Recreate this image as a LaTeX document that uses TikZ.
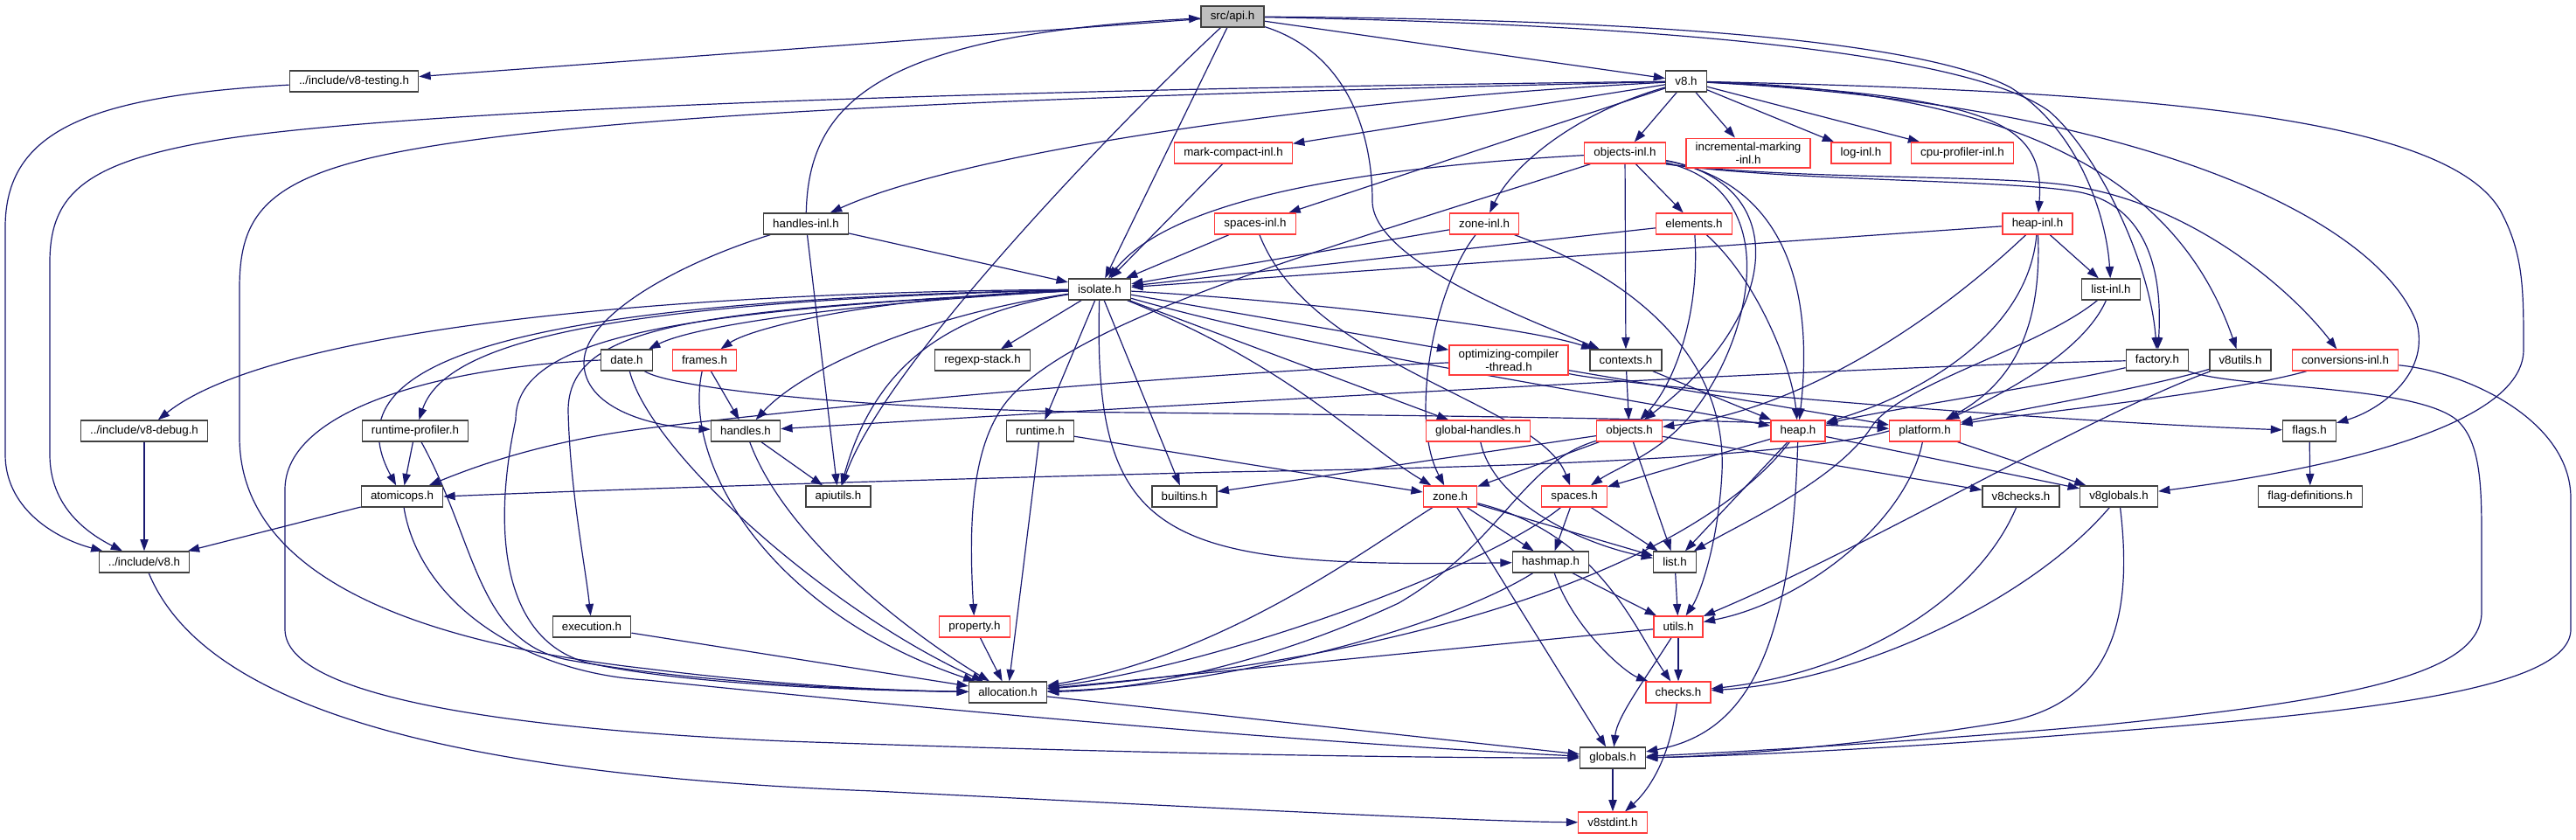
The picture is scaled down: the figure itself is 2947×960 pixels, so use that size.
\documentclass[tikz,border=0pt]{standalone}
\usepackage{fontspec}
\setmainfont{Liberation Sans}
\usetikzlibrary{arrows.meta,backgrounds}
\definecolor{Edge}{HTML}{191970}
\definecolor{Frame}{HTML}{404040}
\definecolor{Trunc}{HTML}{FF3B3B}
\definecolor{Root}{HTML}{BFBFBF}

\begin{document}
\begin{tikzpicture}[
  x=0.75pt, y=-0.75pt,
  file/.style={draw=Frame,line width=1pt,fill=white,minimum height=18pt,inner xsep=8pt,inner ysep=3.5pt,align=center,font={\fontsize{10pt}{11pt}\selectfont}},
  trunc/.style={file,draw=Trunc},
  root/.style={file,fill=Root},
  dep/.style={-{Triangle[length=10pt,width=7pt]},draw=Edge,line width=0.9pt}
]
\useasboundingbox (0,0) rectangle (2947,960);

\node[root]  (api)       at (1410,19)  {src/api.h};
\node[file]  (vtest)     at (405,93)   {../include/v8-testing.h};
\node[file]  (veight)    at (1929,93)  {v8.h};
\node[trunc] (mcinl)     at (1411,175) {mark-compact-inl.h};
\node[trunc] (objinl)    at (1859,175) {objects-inl.h};
\node[trunc] (incmark)   at (2000,175) {incremental-marking\\-inl.h};
\node[trunc] (loginl)    at (2129,175) {log-inl.h};
\node[trunc] (cpuinl)    at (2245,175) {cpu-profiler-inl.h};
\node[file]  (hdlinl)    at (922,256)  {handles-inl.h};
\node[trunc] (spcinl)    at (1436,256) {spaces-inl.h};
\node[trunc] (zoneinl)   at (1698,256) {zone-inl.h};
\node[trunc] (elements)  at (1938,256) {elements.h};
\node[trunc] (heapinl)   at (2331,256) {heap-inl.h};
\node[file]  (isolate)   at (1258,331) {isolate.h};
\node[file]  (listinl)   at (2415,331) {list-inl.h};
\node[file]  (date)      at (717,412)  {date.h};
\node[trunc] (frames)    at (806,412)  {frames.h};
\node[file]  (regexp)    at (1124,412) {regexp-stack.h};
\node[trunc] (optcomp)   at (1726,412) {optimizing-compiler\\-thread.h};
\node[file]  (contexts)  at (1860,412) {contexts.h};
\node[file]  (factory)   at (2468,412) {factory.h};
\node[file]  (vutils)    at (2563,412) {v8utils.h};
\node[trunc] (convinl)   at (2683,412) {conversions-inl.h};
\node[file]  (vdebug)    at (165,493)  {../include/v8-debug.h};
\node[file]  (rtprof)    at (475,493)  {runtime-profiler.h};
\node[file]  (handles)   at (853,493)  {handles.h};
\node[file]  (runtime)   at (1190,493) {runtime.h};
\node[trunc] (globhdl)   at (1691,493) {global-handles.h};
\node[trunc] (objects)   at (1864,493) {objects.h};
\node[trunc] (heap)      at (2057,493) {heap.h};
\node[trunc] (platform)  at (2202,493) {platform.h};
\node[file]  (flags)     at (2642,493) {flags.h};
\node[file]  (atomic)    at (460,568)  {atomicops.h};
\node[file]  (apiutils)  at (959,568)  {apiutils.h};
\node[file]  (builtins)  at (1355,568) {builtins.h};
\node[trunc] (zone)      at (1659,568) {zone.h};
\node[trunc] (spaces)    at (1801,568) {spaces.h};
\node[file]  (vchecks)   at (2312,568) {v8checks.h};
\node[file]  (vglobals)  at (2424,568) {v8globals.h};
\node[file]  (flagdef)   at (2643,568) {flag-definitions.h};
\node[file]  (incv8)     at (165,643)  {../include/v8.h};
\node[file]  (hashmap)   at (1774,643) {hashmap.h};
\node[file]  (list)      at (1916,643) {list.h};
\node[file]  (execution) at (677,717)  {execution.h};
\node[trunc] (property)  at (1115,717) {property.h};
\node[trunc] (utils)     at (1920,717) {utils.h};
\node[file]  (alloc)     at (1153,792) {allocation.h};
\node[trunc] (checks)    at (1920,792) {checks.h};
\node[file]  (globals)   at (1845,867) {globals.h};
\node[trunc] (stdint)    at (1845,941) {v8stdint.h};

\begin{scope}[on background layer]
% src/api.h
\draw[dep] (api) -- (vtest);
\draw[dep] (api) -- (veight);
\draw[dep] (api) -- (isolate);
\draw[dep] (api) .. controls (1280,140) and (1010,420) .. (apiutils);
\draw[dep] (api) .. controls (1540,60) and (1570,150) .. (1570,230) .. controls (1570,300) and (1760,370) .. (contexts);
\draw[dep] (api) .. controls (1900,22) and (2200,48) .. (2300,100) .. controls (2380,150) and (2410,250) .. (listinl);
\draw[dep] (api) .. controls (1900,28) and (2250,60) .. (2344,127) .. controls (2400,175) and (2460,300) .. (factory);
\draw[dep] (hdlinl) .. controls (925,120) and (1000,40) .. (api);
% v8.h
\draw[dep] (veight) .. controls (1300,100) and (500,120) .. (250,160) .. controls (100,185) and (57,220) .. (57,300) -- (57,520) .. controls (57,580) and (100,610) .. (incv8);
\draw[dep] (veight) .. controls (1300,108) and (700,125) .. (450,175) .. controls (300,205) and (274,250) .. (274,330) -- (274,500) .. controls (274,640) and (430,730) .. (740,765) .. controls (900,785) and (1020,790) .. (alloc);
\draw[dep] (veight) .. controls (1500,115) and (1100,175) .. (hdlinl);
\draw[dep] (veight) -- (mcinl);
\draw[dep] (veight) -- (spcinl);
\draw[dep] (veight) .. controls (1800,130) and (1730,190) .. (zoneinl);
\draw[dep] (veight) -- (objinl);
\draw[dep] (veight) -- (incmark);
\draw[dep] (veight) -- (loginl);
\draw[dep] (veight) -- (cpuinl);
\draw[dep] (veight) .. controls (2280,110) and (2340,140) .. (heapinl);
\draw[dep] (veight) .. controls (2350,105) and (2500,230) .. (vutils);
\draw[dep] (veight) .. controls (2450,120) and (2720,250) .. (2765,370) .. controls (2780,430) and (2720,470) .. (flags);
\draw[dep] (veight) .. controls (2500,105) and (2800,140) .. (2860,240) .. controls (2887,290) and (2887,330) .. (2887,400) .. controls (2887,500) and (2600,545) .. (vglobals);
% isolate.h
\draw[dep] (isolate) .. controls (700,335) and (300,385) .. (vdebug);
\draw[dep] (isolate) .. controls (700,345) and (510,390) .. (rtprof);
\draw[dep] (isolate) .. controls (550,345) and (380,420) .. (atomic);
\draw[dep] (isolate) .. controls (800,355) and (650,370) .. (650,470) .. controls (652,560) and (670,650) .. (execution);
\draw[dep] (isolate) .. controls (1000,345) and (800,370) .. (date);
\draw[dep] (isolate) .. controls (1000,340) and (860,375) .. (frames);
\draw[dep] (isolate) -- (regexp);
\draw[dep] (isolate) .. controls (1060,360) and (920,420) .. (handles);
\draw[dep] (isolate) .. controls (1080,360) and (1000,420) .. (apiutils);
\draw[dep] (isolate) -- (runtime);
\draw[dep] (isolate) -- (builtins);
\draw[dep] (isolate) .. controls (800,355) and (590,380) .. (590,480) .. controls (560,620) and (580,740) .. (680,760) .. controls (800,785) and (1000,790) .. (alloc);
\draw[dep] (isolate) .. controls (1250,620) and (1330,650) .. (hashmap);
\draw[dep] (isolate) .. controls (1480,420) and (1560,510) .. (zone);
\draw[dep] (isolate) -- (globhdl);
\draw[dep] (isolate) .. controls (1500,400) and (1800,445) .. (heap);
\draw[dep] (isolate) .. controls (1500,345) and (1750,375) .. (contexts);
\draw[dep] (isolate) -- (optcomp);
% handles-inl.h, mark-compact-inl.h, spaces-inl.h, zone-inl.h
\draw[dep] (hdlinl) -- (isolate);
\draw[dep] (hdlinl) -- (apiutils);
\draw[dep] (hdlinl) .. controls (780,300) and (668,360) .. (668,415) .. controls (668,465) and (740,488) .. (handles);
\draw[dep] (mcinl) -- (isolate);
\draw[dep] (spcinl) -- (isolate);
\draw[dep] (spcinl) .. controls (1500,420) and (1760,460) .. (spaces);
\draw[dep] (zoneinl) -- (isolate);
\draw[dep] (zoneinl) .. controls (1640,330) and (1612,480) .. (zone);
\draw[dep] (zoneinl) .. controls (1900,330) and (1975,430) .. (1970,540) .. controls (1966,620) and (1945,680) .. (utils);
% objects-inl.h
\draw[dep] (objinl) .. controls (1500,195) and (1330,240) .. (isolate);
\draw[dep] (objinl) .. controls (1500,290) and (1250,360) .. (1160,450) .. controls (1110,500) and (1108,600) .. (property);
\draw[dep] (objinl) -- (contexts);
\draw[dep] (objinl) -- (elements);
\draw[dep] (objinl) .. controls (2050,210) and (2040,360) .. (objects);
\draw[dep] (objinl) .. controls (2070,215) and (2070,380) .. (heap);
\draw[dep] (objinl) .. controls (2050,220) and (2000,400) .. (1930,480) .. controls (1895,520) and (1850,535) .. (spaces);
\draw[dep] (objinl.south east) .. controls (2050,205) and (2250,200) .. (2350,210) .. controls (2500,225) and (2620,330) .. (convinl);
\draw[dep] (objinl.south east) .. controls (2050,208) and (2300,205) .. (2380,220) .. controls (2450,235) and (2475,300) .. (factory);
% elements.h, heap-inl.h, list-inl.h
\draw[dep] (elements) -- (isolate);
\draw[dep] (elements) .. controls (1945,360) and (1915,440) .. (objects);
\draw[dep] (elements) .. controls (2010,320) and (2050,420) .. (heap);
\draw[dep] (heapinl) -- (isolate);
\draw[dep] (heapinl) -- (listinl);
\draw[dep] (heapinl) .. controls (2320,380) and (2200,450) .. (heap);
\draw[dep] (heapinl) .. controls (2336,380) and (2300,440) .. (platform);
\draw[dep] (heapinl) .. controls (2200,380) and (2050,470) .. (objects);
\draw[dep] (listinl) .. controls (2330,400) and (2170,440) .. (2140,490) .. controls (2100,550) and (1990,600) .. (list);
\draw[dep] (listinl) .. controls (2380,410) and (2270,460) .. (platform);
% middle row
\draw[dep] (date) .. controls (745,520) and (950,700) .. (alloc);
\draw[dep] (date.west) .. controls (500,420) and (326,470) .. (326,560) -- (326,720) .. controls (326,800) and (600,835) .. (900,848) .. controls (1300,862) and (1600,867) .. (globals);
\draw[dep] (date) .. controls (770,445) and (1000,470) .. (1300,472) .. controls (1700,476) and (2000,480) .. (platform);
\draw[dep] (frames) -- (handles);
\draw[dep] (frames) .. controls (780,530) and (880,700) .. (alloc);
\draw[dep] (rtprof) -- (atomic);
\draw[dep] (rtprof) .. controls (545,620) and (545,735) .. (650,755) .. controls (800,782) and (1000,790) .. (alloc);
\draw[dep] (vtest) .. controls (100,110) and (6,150) .. (6,260) -- (6,520) .. controls (6,580) and (60,615) .. (incv8);
\draw[dep] (vdebug) -- (incv8);
\draw[dep] (atomic) -- (incv8);
\draw[dep] (atomic) .. controls (480,690) and (600,770) .. (740,778) .. controls (1100,815) and (1500,850) .. (globals);
\draw[dep] (incv8) .. controls (230,800) and (480,885) .. (1000,905) .. controls (1400,925) and (1700,940) .. (stdint);
\draw[dep] (execution) -- (alloc);
\draw[dep] (handles) -- (apiutils);
\draw[dep] (handles) .. controls (900,620) and (1050,730) .. (alloc);
\draw[dep] (runtime) -- (alloc);
\draw[dep] (runtime) -- (zone);
\draw[dep] (property) -- (alloc);
\draw[dep] (optcomp) .. controls (1300,430) and (900,470) .. (740,490) .. controls (620,505) and (540,535) .. (atomic);
\draw[dep] (optcomp) .. controls (1850,440) and (2300,480) .. (flags);
\draw[dep] (optcomp) -- (platform);
\draw[dep] (contexts) -- (objects);
\draw[dep] (contexts) -- (heap);
\draw[dep] (globhdl) .. controls (1710,580) and (1820,625) .. (list);
% objects.h, heap.h, platform.h
\draw[dep] (objects) .. controls (1740,530) and (1720,620) .. (1600,690) .. controls (1450,760) and (1300,790) .. (alloc);
\draw[dep] (objects) -- (builtins);
\draw[dep] (objects) -- (list);
\draw[dep] (objects) -- (zone);
\draw[dep] (objects) -- (vchecks);
\draw[dep] (heap) .. controls (1960,620) and (1700,745) .. (alloc);
\draw[dep] (heap) -- (list);
\draw[dep] (heap) -- (spaces);
\draw[dep] (heap) .. controls (2050,760) and (1990,840) .. (globals);
\draw[dep] (heap) -- (vglobals);
\draw[dep] (platform.west) .. controls (2050,525) and (1700,535) .. (1400,540) .. controls (1000,550) and (700,560) .. (atomic.east);
\draw[dep] (platform) .. controls (2180,600) and (2060,690) .. (utils);
\draw[dep] (platform) -- (vglobals);
% right side
\draw[dep] (factory) .. controls (2100,420) and (1400,460) .. (handles);
\draw[dep] (factory) .. controls (2350,440) and (2150,470) .. (heap);
\draw[dep] (factory) .. controls (2560,445) and (2760,440) .. (2810,480) .. controls (2839,505) and (2839,560) .. (2839,620) -- (2839,700) .. controls (2839,770) and (2700,800) .. (2400,830) .. controls (2150,852) and (1950,862) .. (globals);
\draw[dep] (vutils) .. controls (2450,445) and (2300,470) .. (platform);
\draw[dep] (vutils) .. controls (2380,480) and (2150,620) .. (utils);
\draw[dep] (convinl) .. controls (2550,450) and (2300,475) .. (platform);
\draw[dep] (convinl) .. controls (2820,425) and (2941,480) .. (2941,570) -- (2941,720) .. controls (2941,790) and (2700,815) .. (2400,838) .. controls (2150,858) and (1950,866) .. (globals);
\draw[dep] (flags) -- (flagdef);
% lower part
\draw[dep] (zone) .. controls (1560,630) and (1400,750) .. (alloc);
\draw[dep] (zone) -- (hashmap);
\draw[dep] (zone) -- (list);
\draw[dep] (zone) .. controls (1830,610) and (1870,720) .. (checks);
\draw[dep] (zone) -- (globals);
\draw[dep] (spaces) .. controls (1700,650) and (1400,760) .. (alloc);
\draw[dep] (spaces) -- (hashmap);
\draw[dep] (spaces) -- (list);
\draw[dep] (hashmap) .. controls (1650,720) and (1400,785) .. (alloc);
\draw[dep] (hashmap) -- (utils);
\draw[dep] (hashmap) .. controls (1800,720) and (1860,770) .. (checks);
\draw[dep] (list) -- (utils);
\draw[dep] (utils) -- (alloc);
\draw[dep] (utils) -- (checks);
\draw[dep] (utils) .. controls (1880,780) and (1850,820) .. (globals);
\draw[dep] (checks) .. controls (1910,870) and (1885,905) .. (stdint);
\draw[dep] (globals) -- (stdint);
\draw[dep] (alloc) -- (globals);
\draw[dep] (vchecks) .. controls (2260,690) and (2120,770) .. (checks);
\draw[dep] (vglobals) .. controls (2320,690) and (2120,780) .. (checks);
\draw[dep] (vglobals) .. controls (2440,700) and (2420,800) .. (2300,825) .. controls (2120,855) and (1950,866) .. (globals);
\end{scope}
\end{tikzpicture}
\end{document}
